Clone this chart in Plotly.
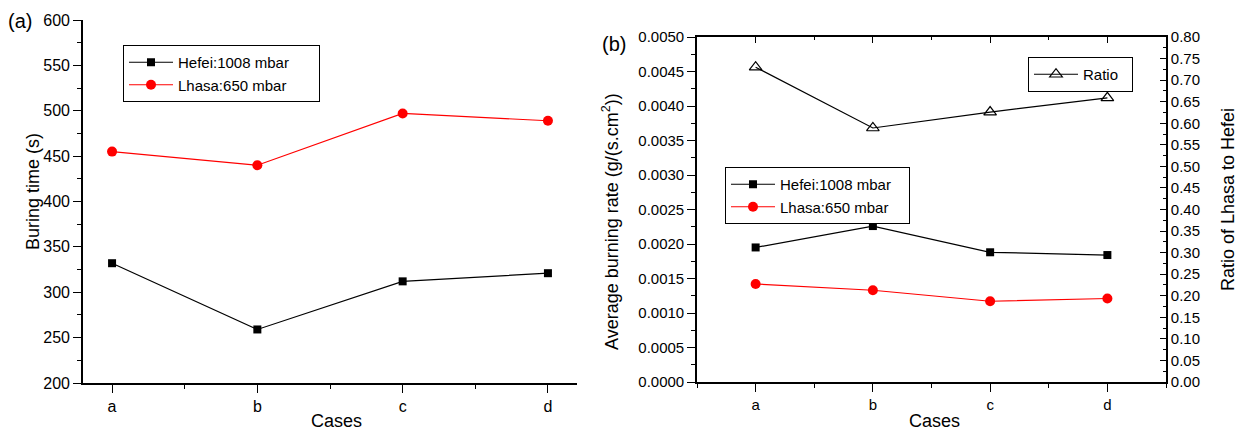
import plotly.graph_objects as go

cases = ["a", "b", "c", "d"]
xpos = [0, 1, 2, 3]

# Panel (a): burning time (s)
hefei_time = [332, 259, 312, 321]
lhasa_time = [455, 440, 497, 489]

# Panel (b): average burning rate g/(s.cm^2) and ratio
hefei_rate = [0.00195, 0.00226, 0.00188, 0.00184]
lhasa_rate = [0.00142, 0.00133, 0.00117, 0.00121]
ratio = [0.730, 0.589, 0.626, 0.659]

W, H = 1247, 431
FONT = "Liberation Sans, Arial, sans-serif"


def px(x):
    return x / W


def py(y):
    return 1 - y / H


# plot areas in pixels
A = dict(l=83, r=577, t=20, b=383)
B = dict(l=697, r=1166, t=37, b=382)

fig = go.Figure()

fig.add_trace(go.Scatter(x=xpos, y=hefei_time, mode="lines+markers",
                         name="Hefei:1008 mbar" + "&nbsp;" * 6,
                         line=dict(color="black", width=1.2),
                         marker=dict(symbol="square", size=8, color="black"),
                         xaxis="x", yaxis="y", legend="legend"))
fig.add_trace(go.Scatter(x=xpos, y=lhasa_time, mode="lines+markers", name="Lhasa:650 mbar",
                         line=dict(color="#ff0000", width=1.2),
                         marker=dict(symbol="circle", size=10, color="#ff0000"),
                         xaxis="x", yaxis="y", legend="legend"))

fig.add_trace(go.Scatter(x=xpos, y=hefei_rate, mode="lines+markers",
                         name="Hefei:1008 mbar" + "&nbsp;" * 3,
                         line=dict(color="black", width=1.2),
                         marker=dict(symbol="square", size=8, color="black"),
                         xaxis="x2", yaxis="y2", legend="legend2"))
fig.add_trace(go.Scatter(x=xpos, y=lhasa_rate, mode="lines+markers", name="Lhasa:650 mbar",
                         line=dict(color="#ff0000", width=1.2),
                         marker=dict(symbol="circle", size=10, color="#ff0000"),
                         xaxis="x2", yaxis="y2", legend="legend2"))
fig.add_trace(go.Scatter(x=xpos, y=ratio, mode="lines+markers", name="Ratio" + "&nbsp;" * 2,
                         line=dict(color="black", width=1.2),
                         marker=dict(symbol="triangle-up-open", size=11, color="black",
                                     line=dict(width=1.2, color="black")),
                         xaxis="x4", yaxis="y4", legend="legend3"))

common = dict(showgrid=False, zeroline=False, automargin=False, linecolor="black",
              linewidth=1.6, tickcolor="black", tickwidth=1.4, showline=True)

dom_ax = [px(A["l"]), px(A["r"])]
dom_ay = [py(A["b"]), py(A["t"])]
dom_bx = [px(B["l"]), px(B["r"])]
dom_by = [py(B["b"]), py(B["t"])]

leg = dict(xanchor="left", yanchor="top", bgcolor="white", bordercolor="black",
           borderwidth=1, font=dict(size=15), tracegroupgap=0, itemwidth=44)

fig.update_layout(
    width=W, height=H, margin=dict(l=0, r=0, t=0, b=0),
    paper_bgcolor="white", plot_bgcolor="white",
    font=dict(family=FONT, color="black", size=16),
    # ---- panel (a)
    xaxis=dict(domain=dom_ax, anchor="y", range=[-0.2, 3.2], tickvals=xpos, ticktext=cases,
               ticks="outside", ticklen=8, tickfont=dict(size=16),
               minor=dict(ticks="outside", ticklen=4, tick0=0, dtick=0.5, tickcolor="black", tickwidth=1.4),
               **common),
    yaxis=dict(domain=dom_ay, anchor="x", range=[200, 600], dtick=50, tick0=200,
               ticks="outside", ticklen=8, tickfont=dict(size=16),
               minor=dict(ticks="outside", ticklen=4, dtick=25, tickcolor="black", tickwidth=1.4),
               **common),
    xaxis3=dict(domain=dom_ax, anchor="y", overlaying="x", side="top", range=[-0.2, 3.2],
                tickvals=xpos, showticklabels=False, ticks="inside", ticklen=6,
                minor=dict(ticks="inside", ticklen=3, tick0=0, dtick=0.5, tickcolor="black", tickwidth=1.4),
                **common),
    yaxis3=dict(domain=dom_ay, anchor="x", overlaying="y", side="right", range=[200, 600],
                dtick=50, tick0=200, showticklabels=False, ticks="inside", ticklen=6,
                minor=dict(ticks="inside", ticklen=3, dtick=25, tickcolor="black", tickwidth=1.4),
                **common),
    # ---- panel (b)
    xaxis2=dict(domain=dom_bx, anchor="y2", range=[-0.5, 3.5], tickvals=xpos, ticktext=cases,
                ticks="outside", ticklen=8, tickfont=dict(size=15),
                minor=dict(ticks="outside", ticklen=4, tick0=0, dtick=0.5, tickcolor="black", tickwidth=1.4),
                **common),
    yaxis2=dict(domain=dom_by, anchor="x2", range=[0, 0.005], dtick=0.0005, tick0=0,
                tickformat=".4f", ticks="outside", ticklen=8, tickfont=dict(size=15),
                minor=dict(ticks="outside", ticklen=4, dtick=0.00025, tickcolor="black", tickwidth=1.4),
                **common),
    xaxis4=dict(domain=dom_bx, anchor="y4", overlaying="x2", side="top", range=[-0.5, 3.5],
                tickvals=xpos, showticklabels=False, ticks="inside", ticklen=6,
                minor=dict(ticks="inside", ticklen=3, tick0=0, dtick=0.5, tickcolor="black", tickwidth=1.4),
                **common),
    yaxis4=dict(domain=dom_by, anchor="x4", overlaying="y2", side="right", range=[0, 0.8],
                dtick=0.05, tick0=0, tickformat=".2f", ticks="inside", ticklen=6,
                tickfont=dict(size=15),
                minor=dict(ticks="inside", ticklen=3, dtick=0.025, tickcolor="black", tickwidth=1.4),
                **common),
    legend=dict(x=px(123), y=py(45), **leg),
    legend2=dict(x=px(725), y=py(167), **leg),
    legend3=dict(x=px(1028), y=py(57), **leg),
)

ann = [
    dict(text="(a)", x=px(20), y=py(21), size=20, angle=0),
    dict(text="(b)", x=px(614), y=py(44), size=20, angle=0),
    dict(text="Buring time (s)", x=px(33), y=py(192), size=18, angle=-90),
    dict(text="Cases", x=px(336), y=py(421), size=18, angle=0),
    dict(text="Cases", x=px(934), y=py(421), size=18, angle=0),
    dict(text="Average burning rate (g/(s.cm<sup>2</sup>))", x=px(611), y=py(222), size=18, angle=-90),
    dict(text="Ratio of Lhasa to Hefei", x=px(1228), y=py(200), size=18, angle=-90),
]
for a in ann:
    fig.add_annotation(text=a["text"], x=a["x"], y=a["y"], xref="paper", yref="paper",
                       xanchor="center", yanchor="middle", showarrow=False,
                       textangle=a["angle"], font=dict(size=a["size"], family=FONT, color="black"))

fig.write_html("out.html")
